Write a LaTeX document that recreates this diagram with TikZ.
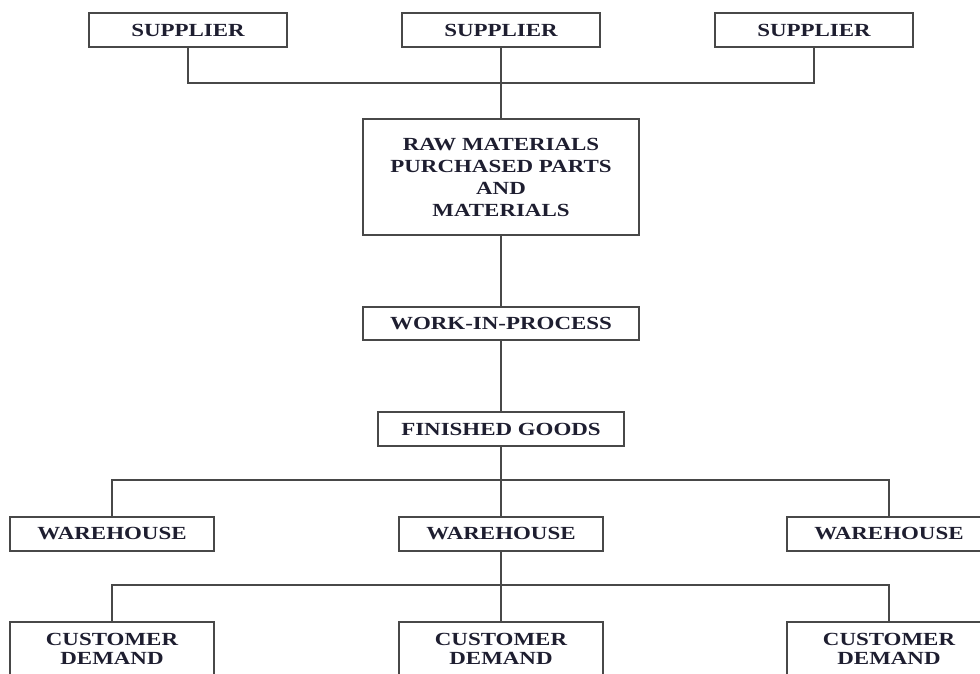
\documentclass[tikz,border=0pt]{standalone}
\usepackage{fontspec}
\usepackage{tikz}
\usetikzlibrary{positioning}
\newfontfamily\chainfont{Liberation Serif}[FakeStretch=1.24]
\definecolor{mline}{RGB}{72, 72, 72}
\definecolor{mtext}{RGB}{30, 30, 48}
\tikzset{stockbox/.style = {draw = mline, line width = 2pt, rectangle,
                            inner sep = 0pt, align = center, text = mtext,
                            font = \chainfont\bfseries\fontsize{18.5}{22}\selectfont}}
\tikzset{demandbox/.style = {stockbox, minimum width = 204, minimum height = 54,
                             font = \chainfont\bfseries\fontsize{18.5}{19}\selectfont}}
\tikzset{wire/.style = {draw = mline, line width = 2pt}}

\begin{document}
\begin{tikzpicture}[x = 1pt, y = -1pt]
      \useasboundingbox (0, 0) rectangle (980, 673);
      \clip (0, 0) rectangle (980, 673);
      \node [stockbox, minimum width = 198, minimum height = 34] (sup1) at (188, 30) {SUPPLIER};
      \node [stockbox, minimum width = 198, minimum height = 34] (sup2) at (501, 30) {SUPPLIER};
      \node [stockbox, minimum width = 198, minimum height = 34] (sup3) at (814, 30) {SUPPLIER};
      \node [stockbox, minimum width = 276, minimum height = 116] (raw) at (501, 177)
            {RAW MATERIALS\\PURCHASED PARTS\\AND\\MATERIALS};
      \node [stockbox, minimum width = 276, minimum height = 33] (wip) at (501, 323.5) {WORK-IN-PROCESS};
      \node [stockbox, minimum width = 246, minimum height = 34] (fin) at (501, 429) {FINISHED GOODS};
      \node [stockbox, minimum width = 204, minimum height = 34] (wh1) at (112, 534) {WAREHOUSE};
      \node [stockbox, minimum width = 204, minimum height = 34] (wh2) at (501, 534) {WAREHOUSE};
      \node [stockbox, minimum width = 204, minimum height = 34] (wh3) at (889, 534) {WAREHOUSE};
      \node [demandbox] (cd1) at (112, 649) {CUSTOMER\\DEMAND};
      \node [demandbox] (cd2) at (501, 649) {CUSTOMER\\DEMAND};
      \node [demandbox] (cd3) at (889, 649) {CUSTOMER\\DEMAND};
      \coordinate (jtop) at (501, 83);
      \coordinate (jmid) at (501, 480);
      \coordinate (jlow) at (501, 585);
      \draw [wire] (sup1.south) |- (jtop) -| (sup3.south);
      \draw [wire] (sup2.south) -- (raw.north);
      \draw [wire] (raw.south) -- (wip.north);
      \draw [wire] (wip.south) -- (fin.north);
      \draw [wire] (wh1.north) |- (jmid) -| (wh3.north);
      \draw [wire] (fin.south) -- (wh2.north);
      \draw [wire] (cd1.north) |- (jlow) -| (cd3.north);
      \draw [wire] (wh2.south) -- (cd2.north);
    \end{tikzpicture}
\end{document}
